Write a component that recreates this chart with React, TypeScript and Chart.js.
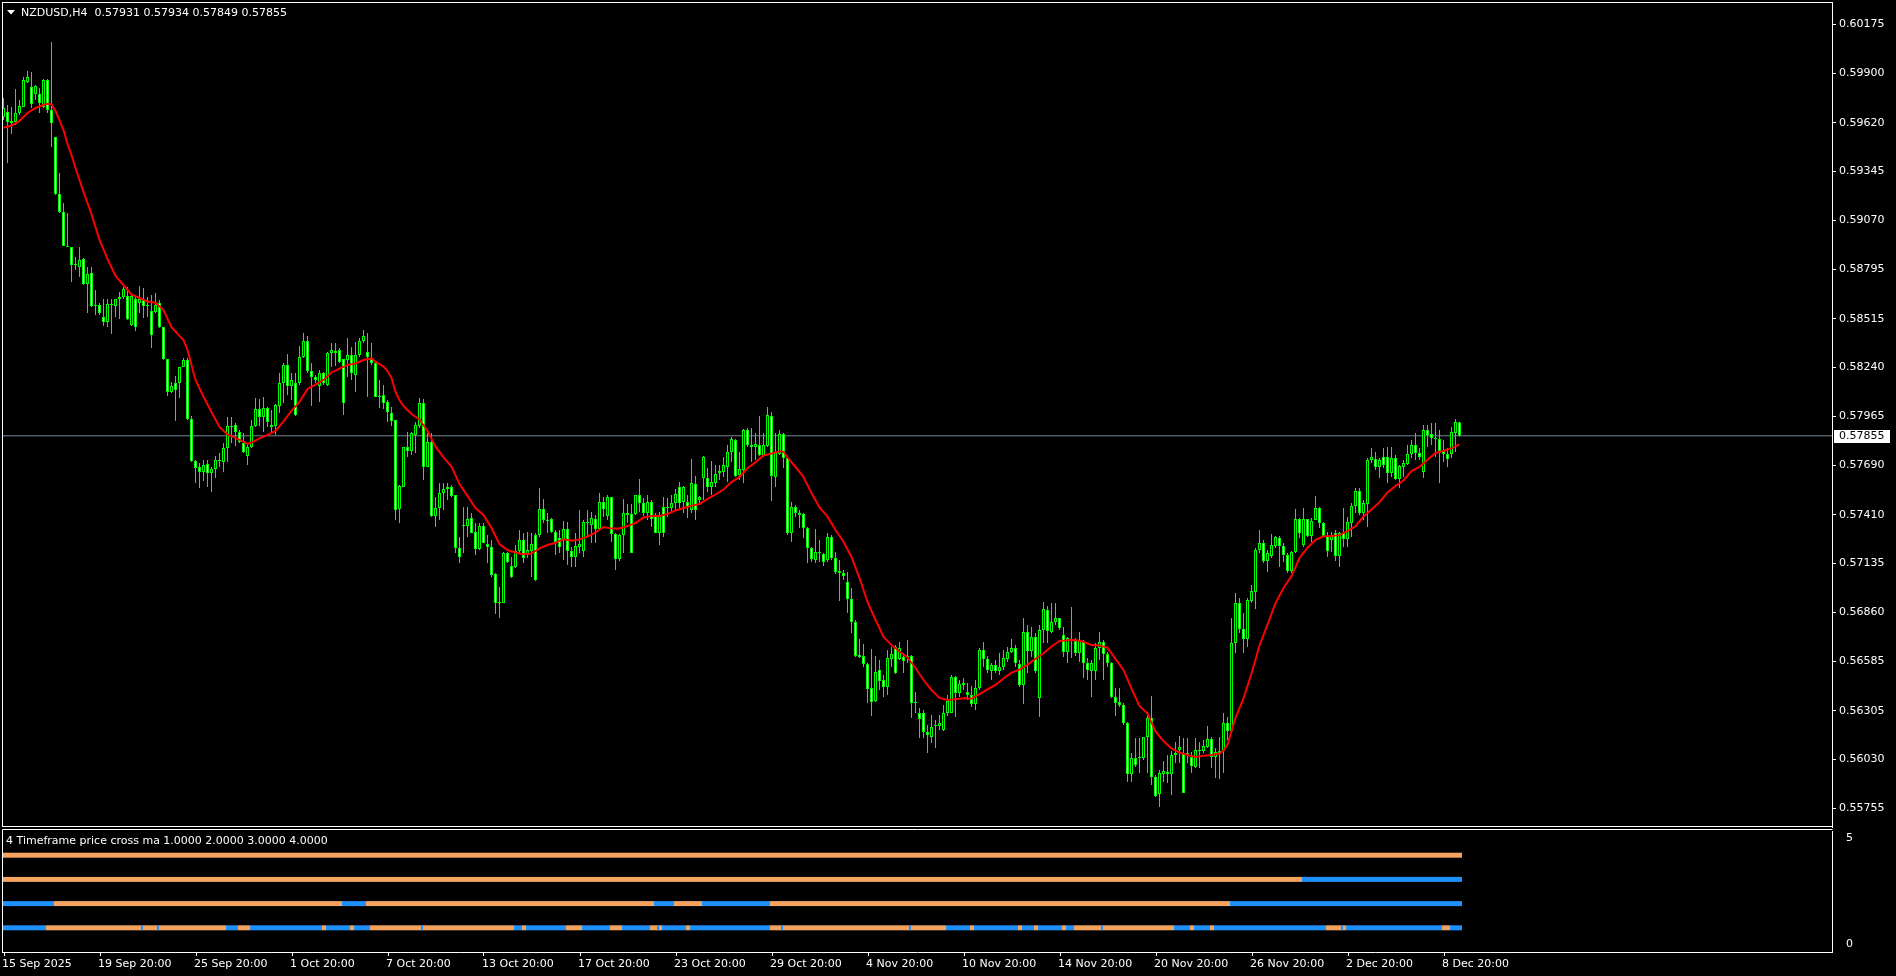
import React, { useEffect, useRef } from "react";
import { Chart, registerables } from "chart.js";

Chart.register(...registerables);

// ---------- DATA ----------
const TITLE = "NZDUSD,H4  0.57931 0.57934 0.57849 0.57855";
const IND_TITLE = "4 Timeframe price cross ma 1.0000 2.0000 3.0000 4.0000";
const LAST_PRICE = 0.57855;
const PRICE_MIN = 0.556494;
const PRICE_MAX = 0.603007;

const PRICE_TICKS = [
  0.60175, 0.599, 0.5962, 0.59345, 0.5907, 0.58795, 0.58515, 0.5824, 0.57965,
  0.5769, 0.5741, 0.57135, 0.5686, 0.56585, 0.56305, 0.5603, 0.55755,
];

const X_TICK_BARS = [0, 24, 48, 72, 96, 120, 144, 168, 192, 216, 240, 264, 288, 312, 336, 360];
const X_TICK_LABELS = [
  "15 Sep 2025", "19 Sep 20:00", "25 Sep 20:00", "1 Oct 20:00", "7 Oct 20:00",
  "13 Oct 20:00", "17 Oct 20:00", "23 Oct 20:00", "29 Oct 20:00", "4 Nov 20:00",
  "10 Nov 20:00", "14 Nov 20:00", "20 Nov 20:00", "26 Nov 20:00", "2 Dec 20:00",
  "8 Dec 20:00",
];

const OPEN = [
  0.59652,0.59681,0.59618,0.59624,0.59675,0.59709,0.59850,0.59822,0.59782,0.59782,0.59709,0.59861,0.59692,0.59540,0.59218,
  0.59117,0.58925,0.58919,0.58818,0.58807,0.58852,0.58711,0.58773,0.58587,0.58592,0.58525,0.58497,0.58598,0.58587,0.58626,
  0.58638,0.58643,0.58480,0.58626,0.58604,0.58626,0.58590,0.58559,0.58553,0.58604,0.58468,0.58288,0.58102,0.58153,0.58153,
  0.58243,0.58282,0.57950,0.57713,0.57679,0.57651,0.57696,0.57645,0.57668,0.57718,0.57707,0.57786,0.57910,0.57916,0.57876,
  0.57814,0.57741,0.57792,0.57910,0.58006,0.57961,0.58012,0.57916,0.57910,0.58023,0.58153,0.58254,0.58136,0.58153,0.58153,
  0.58299,0.58389,0.58220,0.58186,0.58136,0.58209,0.58141,0.58322,0.58333,0.58339,0.58288,0.58282,0.58311,0.58198,0.58311,
  0.58389,0.58327,0.58288,0.58265,0.58074,0.58085,0.58046,0.57984,0.57944,0.57442,0.57566,0.57792,0.57769,0.57860,0.57910,
  0.58040,0.57679,0.57820,0.57403,0.57448,0.57532,0.57555,0.57566,0.57521,0.57222,0.57346,0.57346,0.57392,0.57313,0.57217,
  0.57346,0.57245,0.57228,0.57076,0.56912,0.56912,0.57194,0.57121,0.57115,0.57205,0.57268,0.57183,0.57205,0.57296,0.57296,
  0.57442,0.57380,0.57386,0.57313,0.57279,0.57273,0.57330,0.57205,0.57172,0.57228,0.57205,0.57369,0.57352,0.57386,0.57330,
  0.57482,0.57403,0.57510,0.57301,0.57160,0.57296,0.57420,0.57414,0.57414,0.57521,0.57476,0.57420,0.57482,0.57408,0.57307,
  0.57454,0.57448,0.57448,0.57476,0.57566,0.57482,0.57482,0.57437,0.57583,0.57493,0.57617,0.57617,0.57566,0.57589,0.57645,
  0.57651,0.57679,0.57764,0.57831,0.57634,0.57662,0.57888,0.57803,0.57792,0.57803,0.57747,0.57798,0.57967,0.57623,0.57752,
  0.57865,0.57730,0.57307,0.57454,0.57420,0.57414,0.57335,0.57222,0.57155,0.57200,0.57189,0.57155,0.57284,0.57166,0.57093,
  0.57081,0.57031,0.56935,0.56805,0.56619,0.56613,0.56568,0.56433,0.56360,0.56534,0.56478,0.56439,0.56597,0.56664,0.56597,
  0.56608,0.56608,0.56613,0.56348,0.56292,0.56292,0.56185,0.56157,0.56219,0.56219,0.56196,0.56292,0.56292,0.56495,0.56405,
  0.56461,0.56410,0.56394,0.56343,0.56433,0.56647,0.56597,0.56529,0.56563,0.56529,0.56551,0.56597,0.56636,0.56659,0.56568,
  0.56450,0.56749,0.56642,0.56721,0.56377,0.56760,0.56873,0.56749,0.56805,0.56828,0.56732,0.56636,0.56709,0.56698,0.56630,
  0.56692,0.56574,0.56529,0.56529,0.56659,0.56692,0.56625,0.56574,0.56382,0.56354,0.56337,0.56236,0.55948,0.56038,0.56038,
  0.56038,0.56157,0.56264,0.55931,0.55835,0.55948,0.55959,0.55948,0.56055,0.56084,0.56067,0.56061,0.56044,0.55988,0.56084,
  0.56078,0.56100,0.56146,0.56044,0.56078,0.56078,0.56236,0.56191,0.56687,0.56912,0.56766,0.56709,0.56924,0.56974,0.57211,
  0.57251,0.57149,0.57177,0.57234,0.57279,0.57234,0.57183,0.57093,0.57200,0.57386,0.57239,0.57386,0.57290,0.57380,0.57448,
  0.57363,0.57290,0.57268,0.57307,0.57177,0.57307,0.57273,0.57363,0.57459,0.57544,0.57420,0.57470,0.57718,0.57724,0.57679,
  0.57735,0.57735,0.57645,0.57730,0.57611,0.57679,0.57696,0.57752,0.57803,0.57758,0.57651,0.57888,0.57865,0.57843,0.57837,
  0.57769,0.57752,0.57752,0.57871,0.57931,
];

const HIGH = [
  0.59760,0.59720,0.59709,0.59810,0.59748,0.59878,0.59912,0.59906,0.59833,0.59816,0.59867,0.59867,0.60075,0.59540,0.59337,
  0.59168,0.59111,0.58919,0.58863,0.58919,0.58857,0.58807,0.58807,0.58677,0.58604,0.58626,0.58626,0.58626,0.58626,0.58666,
  0.58694,0.58694,0.58649,0.58649,0.58700,0.58688,0.58638,0.58649,0.58660,0.58621,0.58468,0.58288,0.58158,0.58192,0.58243,
  0.58294,0.58294,0.57967,0.57718,0.57702,0.57718,0.57718,0.57679,0.57741,0.57758,0.57814,0.57961,0.57961,0.57927,0.57888,
  0.57871,0.57814,0.57944,0.58068,0.58062,0.58074,0.58017,0.58000,0.58034,0.58209,0.58265,0.58316,0.58209,0.58209,0.58361,
  0.58435,0.58418,0.58265,0.58198,0.58226,0.58215,0.58327,0.58378,0.58378,0.58350,0.58288,0.58406,0.58356,0.58384,0.58406,
  0.58452,0.58435,0.58378,0.58271,0.58170,0.58141,0.58057,0.58017,0.57944,0.57578,0.57792,0.57876,0.57876,0.57933,0.58068,
  0.58062,0.57871,0.57871,0.57510,0.57589,0.57589,0.57589,0.57578,0.57521,0.57284,0.57454,0.57454,0.57420,0.57363,0.57363,
  0.57363,0.57296,0.57268,0.57081,0.57002,0.57200,0.57200,0.57172,0.57239,0.57324,0.57307,0.57313,0.57307,0.57307,0.57561,
  0.57499,0.57420,0.57392,0.57324,0.57324,0.57375,0.57369,0.57228,0.57307,0.57437,0.57380,0.57437,0.57425,0.57408,0.57532,
  0.57510,0.57521,0.57510,0.57307,0.57301,0.57499,0.57470,0.57470,0.57521,0.57611,0.57504,0.57521,0.57493,0.57420,0.57425,
  0.57510,0.57504,0.57521,0.57555,0.57594,0.57572,0.57521,0.57724,0.57628,0.57516,0.57741,0.57673,0.57713,0.57690,0.57690,
  0.57735,0.57803,0.57848,0.57837,0.57764,0.57893,0.57899,0.57899,0.57871,0.57967,0.57871,0.58017,0.57989,0.57871,0.57888,
  0.57871,0.57735,0.57482,0.57465,0.57437,0.57420,0.57341,0.57228,0.57330,0.57268,0.57194,0.57307,0.57296,0.57200,0.57155,
  0.57098,0.57087,0.56997,0.56816,0.56709,0.56681,0.56574,0.56653,0.56613,0.56591,0.56506,0.56647,0.56664,0.56675,0.56692,
  0.56630,0.56704,0.56619,0.56410,0.56320,0.56309,0.56224,0.56281,0.56253,0.56281,0.56337,0.56394,0.56506,0.56501,0.56478,
  0.56489,0.56461,0.56444,0.56478,0.56659,0.56692,0.56613,0.56574,0.56591,0.56630,0.56647,0.56664,0.56709,0.56675,0.56591,
  0.56828,0.56788,0.56777,0.56743,0.56788,0.56918,0.56895,0.56912,0.56912,0.56828,0.56777,0.56721,0.56890,0.56715,0.56749,
  0.56704,0.56602,0.56591,0.56687,0.56749,0.56704,0.56636,0.56580,0.56433,0.56433,0.56348,0.56241,0.56067,0.56151,0.56151,
  0.56157,0.56298,0.56388,0.55942,0.55971,0.56021,0.56055,0.56078,0.56129,0.56162,0.56151,0.56151,0.56072,0.56151,0.56129,
  0.56140,0.56219,0.56157,0.56095,0.56157,0.56292,0.56270,0.56828,0.56969,0.56940,0.56856,0.56940,0.57014,0.57222,0.57324,
  0.57268,0.57211,0.57301,0.57290,0.57290,0.57251,0.57194,0.57205,0.57442,0.57392,0.57448,0.57386,0.57392,0.57516,0.57454,
  0.57369,0.57313,0.57313,0.57324,0.57313,0.57448,0.57397,0.57476,0.57561,0.57561,0.57493,0.57730,0.57786,0.57764,0.57730,
  0.57786,0.57792,0.57792,0.57747,0.57690,0.57718,0.57803,0.57831,0.57871,0.57786,0.57916,0.57916,0.57927,0.57927,0.57888,
  0.57831,0.57786,0.57905,0.57950,0.57934,
];

const LOW = [
  0.59635,0.59393,0.59557,0.59607,0.59664,0.59709,0.59844,0.59703,0.59748,0.59675,0.59703,0.59675,0.59483,0.59213,0.59111,
  0.58925,0.58919,0.58722,0.58790,0.58750,0.58705,0.58547,0.58581,0.58536,0.58536,0.58474,0.58468,0.58429,0.58525,0.58514,
  0.58626,0.58508,0.58474,0.58446,0.58547,0.58519,0.58525,0.58350,0.58547,0.58463,0.58282,0.58079,0.58096,0.57938,0.58068,
  0.58243,0.57944,0.57707,0.57589,0.57561,0.57600,0.57566,0.57538,0.57617,0.57679,0.57651,0.57707,0.57814,0.57798,0.57814,
  0.57758,0.57690,0.57786,0.57905,0.57910,0.57876,0.57905,0.57876,0.57860,0.57984,0.58040,0.58085,0.58057,0.57967,0.58141,
  0.58294,0.58209,0.58023,0.58153,0.58046,0.58141,0.58136,0.58243,0.58249,0.58265,0.57972,0.58186,0.58170,0.58102,0.58299,
  0.58378,0.58074,0.58254,0.58074,0.58012,0.58006,0.57933,0.57910,0.57380,0.57363,0.57566,0.57735,0.57747,0.57758,0.57899,
  0.57606,0.57679,0.57397,0.57341,0.57380,0.57437,0.57493,0.57510,0.57194,0.57138,0.57194,0.57284,0.57307,0.57183,0.57211,
  0.57251,0.57138,0.57059,0.56850,0.56828,0.56912,0.57138,0.57053,0.57110,0.57194,0.57138,0.57166,0.57059,0.57036,0.57284,
  0.57363,0.57307,0.57307,0.57183,0.57194,0.57155,0.57127,0.57115,0.57115,0.57194,0.57172,0.57284,0.57251,0.57251,0.57324,
  0.57397,0.57380,0.57256,0.57098,0.57149,0.57194,0.57363,0.57194,0.57408,0.57425,0.57403,0.57380,0.57341,0.57307,0.57239,
  0.57284,0.57397,0.57420,0.57437,0.57448,0.57420,0.57392,0.57420,0.57380,0.57476,0.57493,0.57538,0.57521,0.57566,0.57606,
  0.57623,0.57594,0.57707,0.57623,0.57606,0.57589,0.57792,0.57707,0.57718,0.57741,0.57735,0.57792,0.57487,0.57566,0.57747,
  0.57673,0.57296,0.57256,0.57397,0.57335,0.57279,0.57138,0.57143,0.57138,0.57143,0.57121,0.57143,0.57155,0.57076,0.56924,
  0.57042,0.56856,0.56743,0.56608,0.56602,0.56551,0.56348,0.56275,0.56354,0.56422,0.56382,0.56394,0.56551,0.56512,0.56591,
  0.56518,0.56574,0.56264,0.56292,0.56151,0.56151,0.56067,0.56123,0.56095,0.56196,0.56191,0.56275,0.56292,0.56270,0.56382,
  0.56422,0.56365,0.56326,0.56309,0.56422,0.56551,0.56518,0.56478,0.56518,0.56506,0.56535,0.56580,0.56630,0.56551,0.56439,
  0.56343,0.56518,0.56608,0.56518,0.56270,0.56687,0.56687,0.56743,0.56788,0.56760,0.56608,0.56574,0.56602,0.56613,0.56580,
  0.56489,0.56478,0.56382,0.56478,0.56591,0.56478,0.56551,0.56377,0.56275,0.56326,0.56224,0.55903,0.55903,0.55988,0.55954,
  0.56027,0.55954,0.55886,0.55818,0.55762,0.55903,0.55898,0.55830,0.56010,0.56010,0.55841,0.56010,0.55954,0.55982,0.55982,
  0.56067,0.56095,0.55982,0.55926,0.55920,0.55954,0.56140,0.56185,0.56630,0.56743,0.56630,0.56664,0.56912,0.56878,0.57194,
  0.57138,0.57087,0.57166,0.57222,0.57115,0.57143,0.57081,0.57081,0.57194,0.57279,0.57228,0.57284,0.57256,0.57380,0.57335,
  0.57284,0.57172,0.57200,0.57149,0.57115,0.57228,0.57228,0.57284,0.57420,0.57408,0.57380,0.57341,0.57702,0.57662,0.57617,
  0.57673,0.57589,0.57623,0.57606,0.57561,0.57623,0.57690,0.57730,0.57718,0.57718,0.57617,0.57792,0.57803,0.57735,0.57589,
  0.57707,0.57679,0.57730,0.57764,0.57849,
];

const CLOSE = [
  0.59703,0.59624,0.59630,0.59675,0.59714,0.59861,0.59878,0.59726,0.59827,0.59731,0.59861,0.59692,0.59618,0.59218,0.59117,
  0.58925,0.58919,0.58818,0.58824,0.58846,0.58711,0.58767,0.58587,0.58592,0.58547,0.58497,0.58598,0.58592,0.58626,0.58638,
  0.58683,0.58514,0.58643,0.58468,0.58626,0.58587,0.58587,0.58423,0.58592,0.58468,0.58288,0.58102,0.58136,0.58113,0.58243,
  0.58282,0.57950,0.57713,0.57673,0.57651,0.57690,0.57645,0.57668,0.57718,0.57713,0.57786,0.57910,0.57905,0.57876,0.57820,
  0.57764,0.57792,0.57910,0.58006,0.57961,0.58012,0.57933,0.57905,0.58029,0.58153,0.58254,0.58136,0.58170,0.57972,0.58299,
  0.58389,0.58220,0.58186,0.58170,0.58209,0.58153,0.58322,0.58339,0.58322,0.58271,0.58040,0.58311,0.58209,0.58311,0.58389,
  0.58418,0.58299,0.58265,0.58074,0.58079,0.58040,0.57989,0.57938,0.57437,0.57572,0.57792,0.57769,0.57871,0.57916,0.58040,
  0.57679,0.57820,0.57403,0.57448,0.57532,0.57555,0.57566,0.57516,0.57222,0.57172,0.57352,0.57386,0.57307,0.57217,0.57346,
  0.57251,0.57228,0.57070,0.56912,0.56918,0.57194,0.57143,0.57059,0.57205,0.57268,0.57166,0.57211,0.57245,0.57042,0.57442,
  0.57380,0.57375,0.57313,0.57256,0.57228,0.57330,0.57205,0.57172,0.57234,0.57245,0.57369,0.57363,0.57392,0.57330,0.57482,
  0.57442,0.57510,0.57301,0.57160,0.57296,0.57420,0.57408,0.57194,0.57521,0.57476,0.57420,0.57482,0.57386,0.57307,0.57408,
  0.57307,0.57454,0.57476,0.57527,0.57476,0.57566,0.57454,0.57589,0.57437,0.57510,0.57735,0.57566,0.57594,0.57640,0.57656,
  0.57690,0.57764,0.57837,0.57628,0.57668,0.57888,0.57803,0.57792,0.57809,0.57747,0.57803,0.57972,0.57628,0.57758,0.57865,
  0.57730,0.57307,0.57454,0.57420,0.57408,0.57335,0.57222,0.57160,0.57200,0.57194,0.57143,0.57284,0.57166,0.57087,0.57081,
  0.57065,0.56935,0.56805,0.56613,0.56608,0.56568,0.56427,0.56354,0.56523,0.56473,0.56439,0.56602,0.56625,0.56518,0.56659,
  0.56585,0.56613,0.56348,0.56354,0.56258,0.56185,0.56168,0.56213,0.56224,0.56236,0.56292,0.56360,0.56495,0.56405,0.56456,
  0.56450,0.56394,0.56343,0.56433,0.56647,0.56597,0.56535,0.56563,0.56529,0.56551,0.56602,0.56636,0.56659,0.56574,0.56450,
  0.56749,0.56642,0.56721,0.56529,0.56760,0.56878,0.56754,0.56805,0.56828,0.56771,0.56636,0.56715,0.56698,0.56630,0.56698,
  0.56574,0.56535,0.56574,0.56659,0.56692,0.56625,0.56574,0.56382,0.56348,0.56337,0.56236,0.55948,0.56038,0.55999,0.56044,
  0.56157,0.56264,0.55931,0.55824,0.55954,0.55965,0.55948,0.56055,0.56067,0.56100,0.55841,0.56067,0.55993,0.56084,0.56078,
  0.56106,0.56146,0.56044,0.56072,0.56061,0.56236,0.56191,0.56687,0.56912,0.56766,0.56709,0.56929,0.56980,0.57211,0.57251,
  0.57149,0.57194,0.57239,0.57284,0.57234,0.57183,0.57093,0.57200,0.57386,0.57307,0.57386,0.57290,0.57375,0.57448,0.57363,
  0.57290,0.57205,0.57290,0.57177,0.57307,0.57273,0.57369,0.57459,0.57544,0.57420,0.57476,0.57718,0.57735,0.57679,0.57718,
  0.57690,0.57645,0.57730,0.57611,0.57685,0.57702,0.57752,0.57803,0.57758,0.57735,0.57888,0.57860,0.57843,0.57837,0.57769,
  0.57752,0.57724,0.57876,0.57933,0.57855,
];

// red moving average, read at these bar positions
const MA_BARS = [
  0,2,4,6,8,10,11,12,13,14,15,16,17,18,20,22,24,26,28,30,32,34,36,38,40,42,44,45,46,48,
  50,52,54,56,58,60,61,62,64,66,68,70,72,74,76,78,80,82,84,86,88,90,92,93,95,96,97,98,99,100,
  102,104,106,108,110,112,114,116,118,120,122,124,126,128,130,132,134,136,138,140,142,144,146,148,150,152,154,156,158,160,
  162,164,166,168,170,172,174,176,178,180,182,184,186,188,190,192,194,195,196,198,200,202,204,206,208,210,212,214,216,218,
  220,222,224,226,228,230,232,234,236,238,240,242,244,246,248,250,252,254,256,258,260,262,264,266,268,270,272,274,276,278,
  280,282,284,286,288,290,292,294,296,298,300,302,304,305,306,307,308,310,312,314,316,318,320,322,324,326,328,330,332,334,
  336,338,340,342,344,346,348,350,352,354,356,358,360,362,364,
];
const MA_VALUES = [
  0.59592,0.59604,0.59630,0.59675,0.59703,0.59720,0.59727,0.59723,0.59686,0.59635,0.59579,0.59500,0.59438,0.59365,0.59231,
  0.59105,0.58959,0.58852,0.58756,0.58705,0.58652,0.58632,0.58612,0.58605,0.58564,0.58468,0.58418,0.58395,0.58339,0.58170,
  0.58075,0.57989,0.57905,0.57862,0.57843,0.57822,0.57809,0.57817,0.57840,0.57860,0.57882,0.57936,0.57995,0.58046,0.58119,
  0.58144,0.58170,0.58212,0.58234,0.58254,0.58263,0.58282,0.58292,0.58273,0.58245,0.58220,0.58181,0.58102,0.58057,0.58023,
  0.57978,0.57947,0.57882,0.57795,0.57733,0.57682,0.57583,0.57516,0.57448,0.57409,0.57335,0.57245,0.57211,0.57197,0.57187,
  0.57191,0.57220,0.57239,0.57252,0.57271,0.57263,0.57271,0.57287,0.57310,0.57341,0.57333,0.57333,0.57346,0.57363,0.57394,
  0.57403,0.57403,0.57414,0.57434,0.57448,0.57461,0.57470,0.57499,0.57524,0.57552,0.57594,0.57623,0.57672,0.57706,0.57744,
  0.57755,0.57768,0.57765,0.57733,0.57679,0.57623,0.57532,0.57451,0.57399,0.57324,0.57258,0.57172,0.57053,0.56918,0.56818,
  0.56722,0.56675,0.56639,0.56605,0.56546,0.56478,0.56422,0.56377,0.56365,0.56370,0.56375,0.56373,0.56399,0.56425,0.56450,
  0.56487,0.56520,0.56537,0.56565,0.56597,0.56629,0.56667,0.56698,0.56702,0.56704,0.56694,0.56675,0.56673,0.56661,0.56597,
  0.56535,0.56430,0.56332,0.56289,0.56188,0.56134,0.56092,0.56069,0.56055,0.56044,0.56051,0.56055,0.56064,0.56081,0.56114,
  0.56191,0.56264,0.56374,0.56515,0.56673,0.56790,0.56912,0.56997,0.57064,0.57166,0.57224,0.57268,0.57288,0.57290,0.57295,
  0.57318,0.57345,0.57400,0.57440,0.57481,0.57535,0.57572,0.57603,0.57656,0.57680,0.57720,0.57758,0.57769,0.57784,0.57807,
];

// indicator pane: 4 levels, colour runs as [first bar, colour] ('o' orange, 'b' blue)
const TF_LEVELS = [4, 3, 2, 1];
const TF_LEVEL4_RUNS = [[0, "o"]];
const TF_LEVEL3_RUNS = [[0, "o"], [325, "b"]];
const TF_LEVEL2_RUNS = [
  [0, "b"], [13, "o"], [85, "b"], [91, "o"], [163, "b"], [168, "o"], [175, "b"], [192, "o"], [307, "b"],
];
const TF_LEVEL1_RUNS = [
  [0, "b"], [11, "o"], [56, "b"], [59, "o"], [62, "b"], [80, "o"], [81, "b"], [87, "o"], [88, "b"], [92, "o"],
  [128, "b"], [130, "o"], [131, "b"], [141, "o"], [145, "b"], [152, "o"], [155, "b"], [162, "o"], [165, "b"],
  [171, "o"], [172, "b"], [192, "o"], [236, "b"], [242, "o"], [243, "b"], [254, "o"], [255, "b"], [258, "o"],
  [259, "b"], [265, "o"], [266, "b"], [268, "o"], [293, "b"], [297, "o"], [298, "b"], [302, "o"], [303, "b"],
  [331, "o"], [336, "b"], [360, "o"], [362, "b"],
];
const TF_LEVEL1_THIN_MARKS = [34.5, 38.5, 104.5, 163.5, 194.5, 226.5, 274.5, 334.5];

// ---------- STYLE ----------
const FONT = "DejaVu Sans";
const FONT_SIZE = 11;
const ORANGE = "#F4A460";
const BLUE = "#1E90FF";
const LIME = "#00FF00";

const N = CLOSE.length;
const BARS = Array.from({ length: N }, (_, i) => i);

function runColors(runs: (string | number)[][]) {
  return BARS.map((i) => {
    let c = runs[0][1];
    for (const r of runs) if (i >= (r[0] as number)) c = r[1];
    return c === "b" ? BLUE : ORANGE;
  });
}

// remove Chart.js automatic label-overhang padding so the plot area is exact
function noPad(s: any) {
  s.paddingTop = 0;
  s.paddingBottom = 0;
  s.paddingLeft = 0;
  s.paddingRight = 0;
}

export default function App() {
  const refA = useRef<HTMLCanvasElement>(null);
  const refB = useRef<HTMLCanvasElement>(null);

  useEffect(() => {
    document.body.style.margin = "0";
    document.body.style.background = "#000";

    const paneA = {
      id: "paneA",
      afterDraw(chart: any) {
        const { ctx } = chart;
        const y = Math.round(chart.scales.y.getPixelForValue(LAST_PRICE));
        ctx.save();
        ctx.strokeStyle = "#fff";
        ctx.lineWidth = 1;
        ctx.strokeRect(2.5, 2.5, 1830, 824);
        // title
        ctx.fillStyle = "#fff";
        ctx.beginPath();
        ctx.moveTo(7, 10);
        ctx.lineTo(15, 10);
        ctx.lineTo(11, 14.5);
        ctx.closePath();
        ctx.fill();
        ctx.font = `${FONT_SIZE}px "${FONT}"`;
        ctx.textBaseline = "middle";
        ctx.fillText(TITLE, 21, 13);
        // current price box
        ctx.fillRect(1834, y - 6, 56, 13);
        ctx.fillStyle = "#000";
        ctx.fillText(LAST_PRICE.toFixed(5), 1839, y + 0.5);
        ctx.restore();
      },
    };

    const paneB = {
      id: "paneB",
      afterDraw(chart: any) {
        const { ctx } = chart;
        ctx.save();
        ctx.strokeStyle = "#fff";
        ctx.lineWidth = 1;
        ctx.beginPath();
        ctx.moveTo(2.5, 124);
        ctx.lineTo(2.5, 1.5);
        ctx.lineTo(1832.5, 1.5);
        ctx.stroke();
        ctx.fillStyle = "#fff";
        ctx.font = `${FONT_SIZE}px "${FONT}"`;
        ctx.textBaseline = "middle";
        ctx.fillText(IND_TITLE, 6, 13);
        ctx.restore();
      },
    };

    const tickFont = { family: FONT, size: FONT_SIZE };

    const chartA = new Chart(refA.current as HTMLCanvasElement, {
      type: "bar",
      data: {
        datasets: [
          {
            type: "line",
            data: MA_BARS.map((b, k) => ({ x: b, y: MA_VALUES[k] })),
            borderColor: "#FF0000",
            borderWidth: 2,
            pointRadius: 0,
            tension: 0,
            order: 0,
          } as any,
          {
            type: "bar",
            data: BARS.map((i) => ({ x: i, y: [OPEN[i], CLOSE[i]] })),
            backgroundColor: BARS.map((i) => (CLOSE[i] < OPEN[i] ? "#FFFFFF" : "#000000")),
            borderColor: LIME,
            borderWidth: 1,
            borderSkipped: false,
            barThickness: 3,
            minBarLength: 1,
            inflateAmount: 0,
            grouped: false,
            order: 1,
          } as any,
          {
            type: "bar",
            data: BARS.map((i) => ({ x: i, y: [LOW[i], HIGH[i]] })),
            backgroundColor: LIME,
            borderWidth: 0,
            barThickness: 1,
            inflateAmount: 0,
            grouped: false,
            order: 2,
          } as any,
          {
            type: "line",
            data: [
              { x: -1, y: LAST_PRICE },
              { x: 458, y: LAST_PRICE },
            ],
            borderColor: "#778899",
            borderWidth: 1,
            pointRadius: 0,
            order: 3,
          } as any,
        ],
      },
      options: {
        animation: false,
        responsive: false,
        maintainAspectRatio: false,
        events: [],
        layout: { autoPadding: false, padding: { left: 2, top: 2, right: 0, bottom: 1 } },
        plugins: { legend: { display: false }, tooltip: { enabled: false } },
        scales: {
          x: {
            type: "linear",
            min: -0.375,
            max: 457.125,
            display: false,
            offset: false,
            grid: { offset: false },
          },
          y: {
            type: "linear",
            position: "right",
            min: PRICE_MIN,
            max: PRICE_MAX,
            afterBuildTicks: (s: any) => {
              s.ticks = PRICE_TICKS.map((v) => ({ value: v }));
            },
            afterFit: (s: any) => {
              s.width = 64;
              noPad(s);
            },
            grid: { drawOnChartArea: false, color: "#FFFFFF", tickLength: 4 },
            border: { display: true, color: "#FFFFFF" },
            ticks: {
              color: "#FFFFFF",
              font: tickFont,
              padding: 3,
              autoSkip: false,
              callback: (v: any) => Number(v).toFixed(5),
            },
          },
        },
      } as any,
      plugins: [paneA],
    });

    const levelRuns = [TF_LEVEL4_RUNS, TF_LEVEL3_RUNS, TF_LEVEL2_RUNS, TF_LEVEL1_RUNS];
    const half = 0.103;
    const levelSets = TF_LEVELS.map((lvl, k) => ({
      type: "bar",
      data: BARS.map((i) => ({ x: i, y: [lvl - half, lvl + half] })),
      backgroundColor: runColors(levelRuns[k] as any),
      borderWidth: 0,
      barThickness: 4,
      inflateAmount: 0,
      grouped: false,
      order: 2,
    }));

    const chartB = new Chart(refB.current as HTMLCanvasElement, {
      type: "bar",
      data: {
        datasets: [
          ...levelSets,
          {
            type: "bar",
            data: TF_LEVEL1_THIN_MARKS.map((x) => ({ x, y: [1 - half, 1 + half] })),
            backgroundColor: BLUE,
            borderWidth: 0,
            barThickness: 2,
            inflateAmount: 0,
            grouped: false,
            order: 1,
          },
        ] as any,
      },
      options: {
        animation: false,
        responsive: false,
        maintainAspectRatio: false,
        events: [],
        layout: { autoPadding: false, padding: { left: 2, top: 3, right: 0, bottom: 0 } },
        plugins: { legend: { display: false }, tooltip: { enabled: false } },
        scales: {
          x: {
            type: "linear",
            position: "bottom",
            min: -0.5,
            max: 457,
            offset: false,
            afterBuildTicks: (s: any) => {
              s.ticks = X_TICK_BARS.map((v) => ({ value: v }));
            },
            afterFit: (s: any) => {
              s.height = 24;
              noPad(s);
            },
            grid: { drawOnChartArea: false, color: "#FFFFFF", tickLength: 4, offset: false },
            border: { display: true, color: "#FFFFFF" },
            ticks: {
              color: "#FFFFFF",
              font: tickFont,
              align: "start",
              labelOffset: -2,
              maxRotation: 0,
              minRotation: 0,
              autoSkip: false,
              padding: 2,
              callback: (v: any) => {
                const k = X_TICK_BARS.indexOf(Number(v));
                return k >= 0 ? X_TICK_LABELS[k] : "";
              },
            },
          },
          y: {
            type: "linear",
            position: "right",
            min: 0,
            max: 5,
            afterBuildTicks: (s: any) => {
              s.ticks = [{ value: 4.71 }, { value: 0.33 }];
            },
            afterFit: (s: any) => {
              s.width = 64;
              noPad(s);
            },
            grid: { display: false },
            border: { display: true, color: "#FFFFFF" },
            ticks: {
              color: "#FFFFFF",
              font: tickFont,
              padding: 6,
              callback: (v: any) => (Number(v) > 2.5 ? "5" : "0"),
            },
          },
        },
      } as any,
      plugins: [paneB],
    });

    return () => {
      chartA.destroy();
      chartB.destroy();
    };
  }, []);

  return (
    <div style={{ position: "relative", width: 1896, height: 976, background: "#000", overflow: "hidden" }}>
      <canvas ref={refA} width={1896} height={828} style={{ position: "absolute", left: 0, top: 0 }} />
      <canvas ref={refB} width={1896} height={148} style={{ position: "absolute", left: 0, top: 828 }} />
    </div>
  );
}
